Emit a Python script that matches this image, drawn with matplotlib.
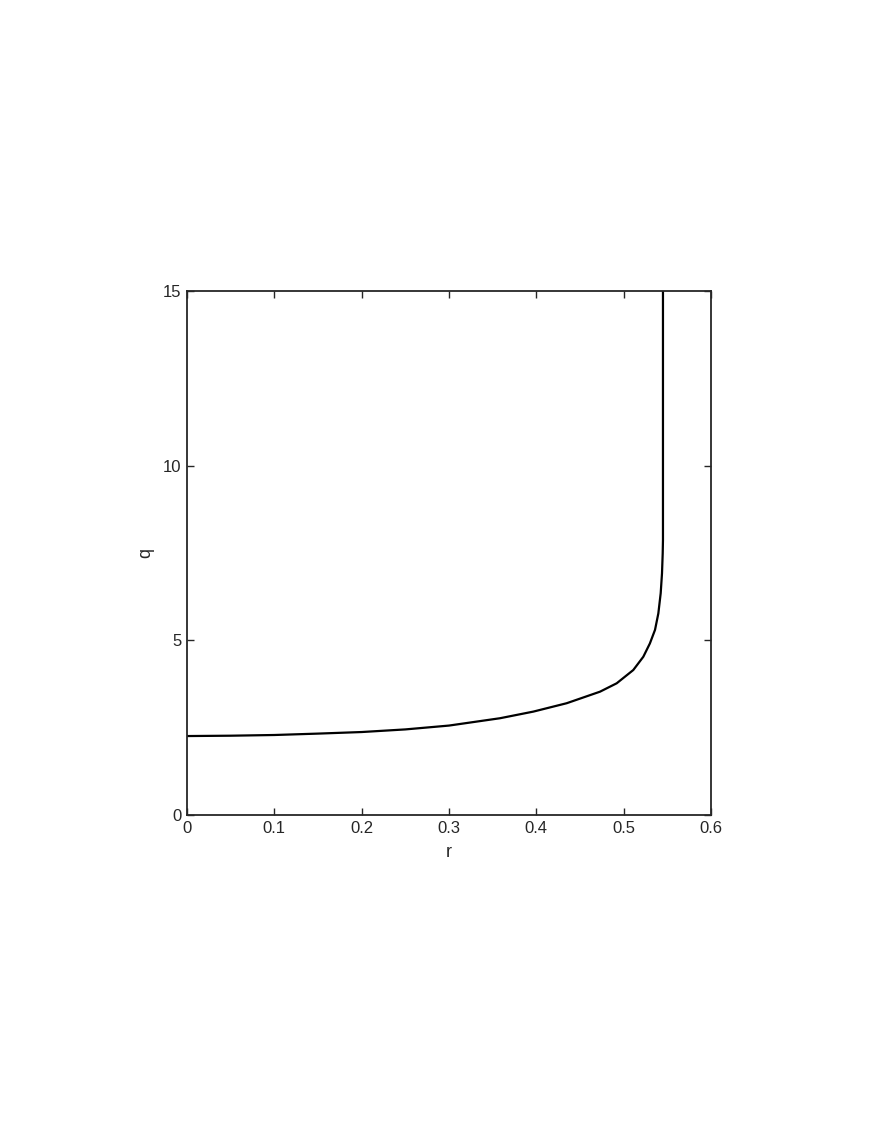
import matplotlib
matplotlib.use("Agg")
import matplotlib.pyplot as plt

r_vals = [0.0, 0.05, 0.1, 0.15, 0.2, 0.25, 0.3, 0.3584, 0.3966, 0.4348, 0.4729,
          0.492, 0.511, 0.5225, 0.530, 0.5359, 0.5397, 0.5424, 0.5439, 0.5447,
          0.545, 0.545]
q_vals = [2.26, 2.27, 2.29, 2.33, 2.375, 2.45, 2.56, 2.77, 2.96, 3.20, 3.53,
          3.77, 4.15, 4.53, 4.91, 5.30, 5.77, 6.35, 6.92, 7.49,
          7.87, 15.0]
x_ticks = [0, 0.1, 0.2, 0.3, 0.4, 0.5, 0.6]
x_tick_labels = ["0", "0.1", "0.2", "0.3", "0.4", "0.5", "0.6"]
y_ticks = [0, 5, 10, 15]
y_tick_labels = ["0", "5", "10", "15"]

plt.rcParams['font.family'] = ['Liberation Sans', 'DejaVu Sans']

fig = plt.figure(figsize=(8.72, 11.28), dpi=100)
ax = fig.add_axes([187/872, 1-815/1128, 524/872, 524/1128])
ax.plot(r_vals, q_vals, color='black', lw=1.6, solid_joinstyle='round')
ax.set_xlim(0, 0.6)
ax.set_ylim(0, 15)
ax.set_xticks(x_ticks)
ax.set_xticklabels(x_tick_labels)
ax.set_yticks(y_ticks)
ax.set_yticklabels(y_tick_labels)
ax.tick_params(direction='in', top=True, right=True, length=5, width=1.0,
               labelsize=12, colors='#262626', pad=4)
for s in ax.spines.values():
    s.set_color('#262626')
    s.set_linewidth(1.3)
ax.set_xlabel('r', fontsize=13, color='#262626', labelpad=6)
ax.set_ylabel('q', fontsize=13, color='#262626', labelpad=6)
fig.savefig('out.png', dpi=100)
